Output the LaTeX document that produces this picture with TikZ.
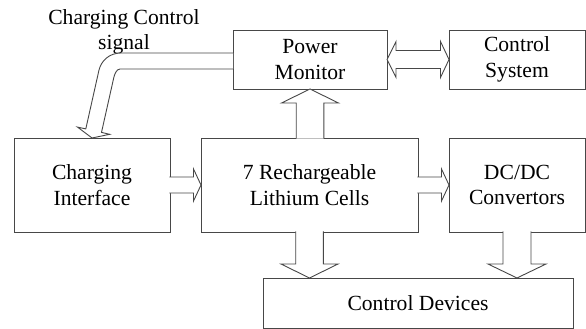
\documentclass[tikz,border=0pt]{standalone}
\usepackage{fontspec}
\setmainfont{Liberation Serif}
\usetikzlibrary{calc}
\newcommand\myblockarrow[5]{% #1 from, #2 to, #3 shaft half, #4 head half, #5 head length
  \coordinate (hb) at ($(#2)!#5!(#1)$);
  \filldraw[barrow] ($(#1)!#3!90:(#2)$) -- ($(hb)!#3!90:(#2)$) -- ($(hb)!#4!90:(#2)$) -- (#2)
    -- ($(hb)!#4!-90:(#2)$) -- ($(hb)!#3!-90:(#2)$) -- ($(#1)!#3!-90:(#2)$);
}
\begin{document}
\begin{tikzpicture}[x=1pt,y=-1pt,
  box/.style={draw=black!72, line width=0.9pt, inner sep=0pt, outer sep=0pt, align=center,
    font=\fontsize{21.6}{25.5}\selectfont},
  barrow/.style={draw=black!72, line width=0.9pt, fill=white, line join=miter},
  lbl/.style={inner sep=0pt, align=center, font=\fontsize{21.6}{24.5}\selectfont}]
\useasboundingbox (0,0) rectangle (586,329);

\node[box, minimum width=154pt, minimum height=59pt] (pm) at (310,59.5) {Power\\Monitor};
\node[box, minimum width=136pt, minimum height=59pt] (cs) at (517,59.5) {Control\\System};
\node[box, minimum width=156pt, minimum height=94pt] (ci) at (92,185) {Charging\\Interface};
\node[box, minimum width=217pt, minimum height=94pt] (cells) at (309.5,185) {7 Rechargeable\\Lithium Cells};
\node[box, minimum width=136pt, minimum height=94pt] (dc) at (517,185) {DC/DC\\Convertors};
\node[box, minimum width=310pt, minimum height=50pt] (cd) at (418,303) {Control Devices};
\node[lbl] (sig) at (124,32) {Charging Control\\signal};

% straight block arrows
\coordinate (a1) at ([xshift=-0.6pt]ci.east);
\myblockarrow{a1}{cells.west}{8pt}{16pt}{7.5pt}
\coordinate (a2) at ([xshift=-0.6pt]cells.east);
\myblockarrow{a2}{dc.west}{8pt}{16pt}{7.5pt}
\coordinate (a3) at ([yshift=-0.6pt]pm.south |- cells.north);
\myblockarrow{a3}{pm.south}{13.8pt}{28.5pt}{14pt}
\coordinate (a4) at ([yshift=0.6pt]cells.south);
\coordinate (b4) at (cells.south |- cd.north);
\myblockarrow{a4}{b4}{13.8pt}{28.5pt}{14pt}
\coordinate (a5) at ([yshift=0.6pt]dc.south);
\coordinate (b5) at (dc.south |- cd.north);
\myblockarrow{a5}{b5}{14pt}{29pt}{14pt}

% double arrow Power Monitor <-> Control System
\coordinate (p) at (pm.east);
\coordinate (q) at (cs.west);
\coordinate (h1) at ($(p)!9pt!(q)$);
\coordinate (h2) at ($(q)!8.5pt!(p)$);
\filldraw[barrow] (p) -- ($(h1)!18pt!90:(q)$) -- ($(h1)!9pt!90:(q)$) -- ($(h2)!9pt!90:(q)$)
  -- ($(h2)!18pt!90:(q)$) -- (q) -- ($(h2)!18pt!-90:(q)$) -- ($(h2)!9pt!-90:(q)$)
  -- ($(h1)!9pt!-90:(q)$) -- ($(h1)!18pt!-90:(q)$) -- cycle;

% curved arrow: charging control signal
\coordinate (t) at (ci.north);
\filldraw[barrow]
  ($(pm.west)+(0,-6.5)$) -- ($(pm.west)+(-112,-6.5)$)
  .. controls ($(pm.west)+(-124,-6.5)$) and ($(pm.west)+(-131.8,1.5)$) .. ($(pm.west)+(-134,10.5)$)
  -- ($(t)+(-6.2,-9.1)$) -- ($(t)+(-14.5,-10.9)$) -- (t) -- ($(t)+(17.7,-3.7)$) -- ($(t)+(9.5,-5.6)$)
  -- ($(pm.west)+(-119.3,18.5)$)
  .. controls ($(pm.west)+(-118.6,15)$) and ($(pm.west)+(-116.5,9.5)$) .. ($(pm.west)+(-113,9.5)$)
  -- ($(pm.west)+(0,9.5)$);
\end{tikzpicture}
\end{document}
